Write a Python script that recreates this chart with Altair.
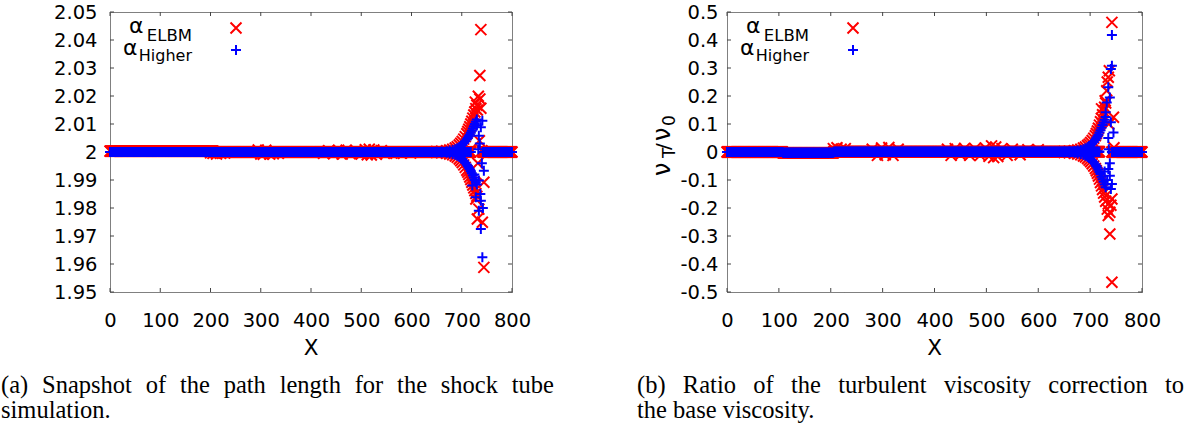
import altair as alt
import pandas as pd

SANS = "DejaVu Sans"
SERIF = "Liberation Serif"
RED = "#ff0000"
BLUE = "#0000ff"
X_SHAPE = "M-1,-1L1,1M-1,1L1,-1"
PLUS_SHAPE = "M-1,0L1,0M0,-1L0,1"
FS = 19.5
CAP_FS = 24.5

x_ticks = [0, 100, 200, 300, 400, 500, 600, 700, 800]
alpha_ticks = [1.95, 1.96, 1.97, 1.98, 1.99, 2, 2.01, 2.02, 2.03, 2.04, 2.05]
nu_ticks = [-0.5, -0.4, -0.3, -0.2, -0.1, 0, 0.1, 0.2, 0.3, 0.4, 0.5]

# ---------------- panel (a): alpha ----------------
a_red_seg_start = [0, 206, 742]
a_red_seg_end = [205, 718, 800]
a_red_seg_val = [2.0003, 2.0, 2.0]
a_blue_seg_start = [0, 742]
a_blue_seg_end = [718, 800]
a_blue_seg_val = [2.0, 2.0]

arm_x = [650, 660, 670, 676, 682, 687, 691, 695, 698, 701, 704, 707, 710, 712,
         714, 716, 718, 720, 722, 724, 726, 728, 730]
a_red_upper = [2.0002, 2.0003, 2.0005, 2.0007, 2.0010, 2.0014, 2.0019, 2.0025, 2.0031,
               2.0038, 2.0046, 2.0055, 2.0065, 2.0073, 2.0081, 2.0090, 2.0100, 2.0110,
               2.0121, 2.0132, 2.0143, 2.0155, 2.0167]
a_red_lower = [1.9998, 1.9997, 1.9995, 1.9993, 1.9990, 1.9986, 1.9981, 1.9975, 1.9969,
               1.9962, 1.9954, 1.9945, 1.9935, 1.9928, 1.9920, 1.9911, 1.9902, 1.9892,
               1.9882, 1.9872, 1.9862, 1.9852, 1.9842]
a_blue_upper = [2.0001, 2.0002, 2.0003, 2.0005, 2.0007, 2.0010, 2.0013, 2.0017, 2.0021,
                2.0026, 2.0032, 2.0038, 2.0045, 2.0050, 2.0056, 2.0062, 2.0069, 2.0076,
                2.0084, 2.0092, 2.0100, 2.0108, 2.0116]
a_blue_lower = [1.9999, 1.9998, 1.9997, 1.9995, 1.9993, 1.9990, 1.9987, 1.9983, 1.9979,
                1.9974, 1.9968, 1.9962, 1.9955, 1.9950, 1.9944, 1.9938, 1.9931, 1.9924,
                1.9916, 1.9908, 1.9900, 1.9892, 1.9884]

a_red_noise_x = [200, 205, 212, 220, 228, 295, 300, 305, 310, 318, 325, 335, 425, 435,
                 445, 455, 462, 470, 478, 490, 500, 508, 512, 516, 520, 525, 530, 540,
                 550, 565, 580, 598]
a_red_noise_y = [1.9997, 1.9995, 1.9993, 1.9995, 1.9996, 2.0007, 1.9993, 1.9992, 2.0006,
                 1.9993, 1.9994, 1.9995, 1.9995, 2.0005, 1.9994, 2.0006, 1.9993, 2.0006,
                 1.9994, 2.0005, 1.9993, 2.0008, 1.9990, 2.0010, 1.9989, 2.0007, 1.9992,
                 2.0005, 1.9995, 1.9995, 1.9996, 1.9996]

a_red_shock_x = [738, 736, 733, 736, 727, 738, 731, 735, 744, 728, 734, 731, 741, 744, 740, 732]
a_red_shock_y = [2.0437, 2.0273, 2.0199, 2.0189, 2.0178, 2.0156, 2.0150, 2.0040, 1.9892,
                 1.9832, 1.9796, 1.9761, 1.9749, 1.9588, 2.0005, 1.9960]
a_blue_shock_x = [741, 738, 734, 736, 744, 734, 721, 728, 738, 734, 738, 741, 730, 725,
                  737, 742, 740, 733]
a_blue_shock_y = [2.0112, 2.0088, 2.0058, 2.0030, 1.9933, 1.9898, 1.9880, 1.9838, 1.9826,
                  1.9790, 1.9725, 1.9624, 2.0095, 1.9920, 1.9850, 1.9800, 1.9960, 2.0010]

# ---------------- panel (b): nu_T / nu_0 ----------------
b_red_seg_start = [0, 108, 206, 742]
b_red_seg_end = [107, 205, 718, 800]
b_red_seg_val = [0.0, -0.003, 0.001, 0.0]
b_blue_seg_start = [0, 108, 206, 742]
b_blue_seg_end = [107, 205, 718, 800]
b_blue_seg_val = [0.0, -0.003, 0.001, 0.0]

b_red_upper = [0.002, 0.003, 0.005, 0.007, 0.010, 0.014, 0.018, 0.023, 0.028, 0.034, 0.041,
               0.049, 0.058, 0.066, 0.075, 0.085, 0.096, 0.108, 0.120, 0.133, 0.146, 0.160,
               0.175]
b_red_lower = [-0.002, -0.003, -0.005, -0.007, -0.010, -0.014, -0.018, -0.023, -0.029, -0.035,
               -0.042, -0.050, -0.059, -0.067, -0.076, -0.086, -0.097, -0.109, -0.121,
               -0.134, -0.147, -0.161, -0.176]
b_blue_upper = [0.001, 0.002, 0.003, 0.005, 0.007, 0.010, 0.013, 0.017, 0.021, 0.025, 0.030,
                0.036, 0.043, 0.049, 0.055, 0.062, 0.070, 0.078, 0.087, 0.096, 0.105, 0.115,
                0.125]
b_blue_lower = [-0.001, -0.002, -0.003, -0.005, -0.007, -0.010, -0.013, -0.017, -0.021,
                -0.026, -0.031, -0.037, -0.044, -0.050, -0.056, -0.063, -0.071, -0.079,
                -0.088, -0.097, -0.106, -0.116, -0.126]

b_red_noise_x = [205, 212, 220, 228, 280, 290, 298, 305, 312, 320, 330, 425, 432, 440, 450,
                 458, 468, 478, 488, 498, 505, 510, 514, 518, 522, 530, 540, 550, 565, 580, 600]
b_red_noise_y = [0.012, 0.015, 0.010, 0.012, 0.010, -0.012, 0.014, -0.010, 0.016, -0.012,
                 0.010, 0.010, -0.012, 0.012, -0.010, 0.013, -0.012, 0.012, -0.012, 0.014,
                 -0.015, 0.022, -0.020, 0.018, -0.016, 0.012, -0.012, 0.010, -0.010, 0.008,
                 0.008]

b_red_shock_x = [742, 735, 737, 733, 732, 729, 745, 722, 742, 735, 733, 738, 735, 740, 738,
                 742, 746, 736]
b_red_shock_y = [0.463, 0.267, 0.290, 0.250, 0.219, 0.183, 0.124, 0.154, -0.168, -0.186,
                 -0.204, -0.215, -0.227, -0.190, -0.293, -0.465, 0.015, 0.100]
b_blue_shock_x = [742, 742, 740, 735, 738, 732, 730, 740, 745, 735, 735, 738, 742, 740, 733,
                  728, 738, 736]
b_blue_shock_y = [0.418, 0.308, 0.296, 0.231, 0.195, 0.177, 0.142, 0.106, 0.070, 0.050,
                  -0.061, -0.085, -0.114, -0.132, -0.100, -0.070, -0.040, 0.010]

caption_a = ["(a) Snapshot of the path length for the shock tube", "simulation."]
caption_b = ["(b) Ratio of the turbulent viscosity correction to", "the base viscosity."]

# Times-Roman advance widths (per 1000 em) used to justify the first caption line
TIMES_W = {"(": 333, ")": 333, ".": 250, "a": 444, "b": 500, "c": 444, "d": 500, "e": 444,
           "f": 333, "g": 500, "h": 500, "i": 278, "k": 500, "l": 278, "m": 778, "n": 500,
           "o": 500, "p": 500, "r": 333, "s": 389, "t": 278, "u": 500, "v": 500, "y": 500,
           "R": 667, "S": 556}


def word_width(w, fs):
    return sum(TIMES_W.get(c, 500) for c in w) * fs / 1000.0


def series(seg_start, seg_end, seg_val, arm_up, arm_low, extra_x, extra_y):
    xs, ys = [], []
    for s, e, v in zip(seg_start, seg_end, seg_val):
        for xx in range(s, e + 1):
            xs.append(xx)
            ys.append(v)
    xs += arm_x + arm_x + list(extra_x)
    ys += list(arm_up) + list(arm_low) + list(extra_y)
    return pd.DataFrame({"x": xs, "y": ys})


def txt(text, x, y, size, font=SANS, align="left", baseline="alphabetic", angle=0,
        color="black"):
    return alt.Chart(pd.DataFrame({"t": [text]})).mark_text(
        font=font, fontSize=size, align=align, baseline=baseline, angle=angle, color=color
    ).encode(x=alt.value(x), y=alt.value(y), text="t:N")


def justified(line, x0, x1, y):
    words = line.split(" ")
    widths = [word_width(w, CAP_FS) for w in words]
    gap = (x1 - x0 - sum(widths)) / (len(words) - 1)
    out = []
    pos = x0
    for w, wd in zip(words, widths):
        out.append(txt(w, pos, y, CAP_FS, font=SERIF, baseline="middle"))
        pos += wd + gap
    return out


def panel(width, height, domain, yticks, red_df, blue_df, extra_layers, caption, cap_x,
          cap_x1, ylab_pad):
    xenc = alt.X("x:Q", scale=alt.Scale(domain=[0, 800], nice=False, zero=False),
                 axis=alt.Axis(values=x_ticks, title=None, domain=False, ticks=False,
                               grid=False, labelFont=SANS, labelFontSize=FS,
                               labelColor="black", labelPadding=19, labelAngle=0,
                               labelFlush=False, labelOverlap=False,
                               labelBaseline="top",
                               labelExpr="'' + datum.value"))
    yenc = alt.Y("y:Q", scale=alt.Scale(domain=domain, nice=False, zero=False),
                 axis=alt.Axis(values=yticks, title=None, domain=False, ticks=False,
                               grid=False, labelFont=SANS, labelFontSize=FS,
                               labelColor="black", labelPadding=ylab_pad,
                               labelFlush=False, labelOverlap=False,
                               labelExpr="'' + datum.value"))
    red = alt.Chart(red_df).mark_point(shape=X_SHAPE, filled=False, color=RED,
                                       strokeWidth=2, size=121, opacity=1).encode(
        x=xenc, y=yenc)
    blue = alt.Chart(blue_df).mark_point(shape=PLUS_SHAPE, filled=False, color=BLUE,
                                         strokeWidth=2, size=100, opacity=1).encode(
        x=xenc, y=yenc)
    tx = pd.DataFrame({"x": x_ticks})
    ty = pd.DataFrame({"y": yticks})
    tick_style = dict(color="#444444", strokeWidth=1)
    t1 = alt.Chart(tx).mark_rule(**tick_style).encode(x=xenc, y=alt.value(0), y2=alt.value(4))
    t2 = alt.Chart(tx).mark_rule(**tick_style).encode(x=xenc, y=alt.value(height - 4),
                                                      y2=alt.value(height))
    t3 = alt.Chart(ty).mark_rule(**tick_style).encode(y=yenc, x=alt.value(0), x2=alt.value(4))
    t4 = alt.Chart(ty).mark_rule(**tick_style).encode(y=yenc, x=alt.value(width - 4),
                                                      x2=alt.value(width))
    leg = [
        txt("α", 19, 21, 22),
        txt("ELBM", 82, 29, 16.5, align="right"),
        txt("α", 13, 43, 22),
        txt("Higher", 82, 49, 16, align="right"),
        alt.Chart(pd.DataFrame({"k": [0]})).mark_point(
            shape=X_SHAPE, filled=False, color=RED, strokeWidth=2, size=121, opacity=1
        ).encode(x=alt.value(126), y=alt.value(16)),
        alt.Chart(pd.DataFrame({"k": [0]})).mark_point(
            shape=PLUS_SHAPE, filled=False, color=BLUE, strokeWidth=2, size=100, opacity=1
        ).encode(x=alt.value(126), y=alt.value(38)),
    ]
    xt = txt("X", width / 2, 337, FS + 2, baseline="middle", align="center")
    caps = justified(caption[0], cap_x, cap_x1, 374) + [
        txt(caption[1], cap_x, 399, CAP_FS, font=SERIF, baseline="middle")]
    layers = [t1, t2, t3, t4, red, blue] + leg + [xt] + caps + extra_layers
    return alt.layer(*layers).properties(width=width, height=height)


a_red = series(a_red_seg_start, a_red_seg_end, a_red_seg_val, a_red_upper, a_red_lower,
               a_red_noise_x + a_red_shock_x, a_red_noise_y + a_red_shock_y)
a_blue = series(a_blue_seg_start, a_blue_seg_end, a_blue_seg_val, a_blue_upper,
                a_blue_lower, a_blue_shock_x, a_blue_shock_y)
b_red = series(b_red_seg_start, b_red_seg_end, b_red_seg_val, b_red_upper, b_red_lower,
               b_red_noise_x + b_red_shock_x, b_red_noise_y + b_red_shock_y)
b_blue = series(b_blue_seg_start, b_blue_seg_end, b_blue_seg_val, b_blue_upper,
                b_blue_lower, b_blue_shock_x, b_blue_shock_y)

ytitle = [
    txt("ν", -57, 164, 24, angle=270),
    txt("T", -52, 146, 17, angle=270),
    txt("/", -57, 138, 20, angle=270),
    txt("ν", -57, 129, 24, angle=270),
    txt("0", -52, 114, 17, angle=270),
]

left = panel(402, 280, [1.95, 2.05], alpha_ticks, a_red, a_blue, [], caption_a,
             -109, 444, 13)
right = panel(415, 280, [-0.5, 0.5], nu_ticks, b_red, b_blue, ytitle, caption_b,
              -90, 457, 9)

chart = alt.hconcat(left, right, spacing=215, bounds="flush").properties(
    padding={"left": 0, "top": 1, "right": 0, "bottom": 0}
).configure_view(stroke="black", strokeWidth=1, strokeDash=[1, 1])

chart.save("out.html", embed_options={"renderer": "svg", "actions": False})
